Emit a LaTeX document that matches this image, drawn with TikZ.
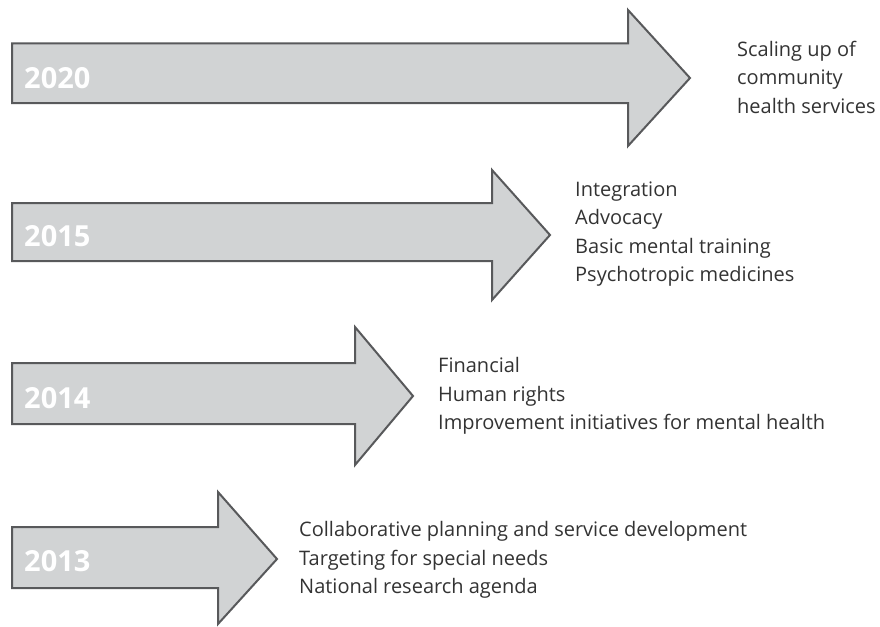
\documentclass[tikz,border=0pt]{standalone}
\usepackage{fontspec}
\setmainfont{Open Sans}
\newfontfamily\yearfont{Open Sans}
\definecolor{arrowfill}{HTML}{D1D3D4}
\definecolor{arrowline}{HTML}{58595B}
\definecolor{itemcolor}{HTML}{333333}
\newcommand\timearrow[8]{%
  \draw[arrowshape] (#1,#2) -- (#4,#2) -- (#4,#5) -- (#7,#8) -- (#4,#6) -- (#4,#3) -- (#1,#3) -- cycle;}
\begin{document}
\begin{tikzpicture}[x=1pt,y=-1pt,
  arrowshape/.style={fill=arrowfill,draw=arrowline,line width=2pt,line join=miter},
  yearlabel/.style={font=\yearfont\bfseries\fontsize{29}{29}\selectfont,text=white,anchor=base west,inner sep=0pt},
  itemtext/.style={font=\fontsize{20}{28.5}\selectfont,text=itemcolor,align=left,anchor=west,inner sep=0pt}]
\useasboundingbox (0,0) rectangle (880,626);
% arrows: x0, shaft top, shaft bottom, head x, head top, head bottom, tip x, tip y
\timearrow{12}{43.5}{103}{628}{10}{146}{690}{78}
\timearrow{12}{203}{261}{492}{170}{300}{550}{235}
\timearrow{12}{363}{424}{355}{327}{465}{413}{396}
\timearrow{12}{527}{588}{218}{492}{624}{277}{559}
% years
\node[yearlabel] (y2020) at (24,88) {2020};
\node[yearlabel] (y2015) at (24,246) {2015};
\node[yearlabel] (y2014) at (24,408) {2014};
\node[yearlabel] (y2013) at (24,571) {2013};
% items
\node[itemtext] (t2020) at (737,77) {Scaling up of\\community\\health services};
\node[itemtext] (t2015) at (575,234) {Integration\\Advocacy\\Basic mental training\\Psychotropic medicines};
\node[itemtext] (t2014) at (438,396) {Financial\\Human rights\\Improvement initiatives for mental health};
\node[itemtext] (t2013) at (299,560) {Collaborative planning and service development\\Targeting for special needs\\National research agenda};
\end{tikzpicture}
\end{document}
